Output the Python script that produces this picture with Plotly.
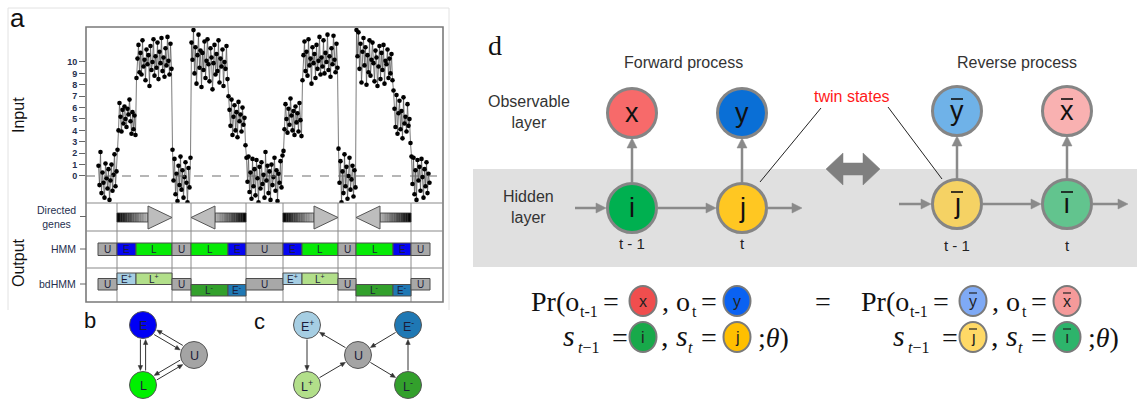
import plotly.graph_objects as go

W, H = 1137, 401

# ---------------- panel a: input signal, one list per segment ----------
u1 = [0.9, -0.8, 2.1, -1.5, 0.3, -0.6, -1.9, 1.1, -0.2, -1.1, 0.6, -2.1, -0.4, 1.0, -1.3, 0.1, 1.9, -0.9, 0.4]
e1 = [2.3, 4.0, 6.4, 5.2, 3.9, 5.8, 4.6, 6.1, 5.0, 4.3, 5.9, 5.4, 6.7, 4.8, 3.7, 5.6, 4.1, 5.3, 3.6]
l1 = [8.6, 10.3, 11.5, 9.1, 10.8, 8.9, 11.9, 9.6, 10.2, 8.4, 11.1, 9.8, 10.6, 7.9, 11.4, 9.3, 10.0, 12.0,
      8.8, 10.5, 9.5, 11.7, 8.5, 10.9, 9.9, 12.1, 9.2, 10.4, 8.7, 11.2, 9.7, 12.2, 10.1, 8.9, 11.6, 9.4]
u2 = [2.3, -0.4, 1.5, -1.6, 0.2, -2.2, 0.9, -0.8, 1.7, -1.2, 0.5, -1.9, -0.1, 1.2, -0.6, -2.3, 0.7, -1.0, 1.6]
l2 = [11.7, 10.2, 12.8, 9.0, 11.3, 8.1, 10.6, 12.4, 9.5, 11.0, 7.8, 10.8, 9.3, 11.8, 8.6, 10.1, 12.0, 9.8,
      8.3, 11.2, 10.4, 7.6, 9.9, 11.5, 8.9, 10.7, 9.2, 11.9, 8.2, 10.3, 9.6, 11.1, 7.9, 10.0, 9.4, 11.4, 8.5]
e2 = [7.0, 5.8, 4.4, 6.7, 3.6, 5.2, 6.2, 4.0, 5.6, 3.4, 6.5, 4.8, 5.4, 3.9, 6.0, 4.5, 5.1, 2.7]
u3 = [1.6, -0.5, 1.7, -1.4, 0.3, -2.0, 1.5, -0.9, 0.6, -1.7, 1.4, -0.2, -2.3, 0.8, -1.1, 1.2, -0.7, 0.1,
      -1.9, 2.1, -0.4, 0.9, -1.5, 0.4, -2.1, 1.0, -0.8, -0.1, 1.6, -1.3, 0.5, -2.2, 0.2, -0.6, 1.3, -1.0, 1.8]
e3 = [2.2, 4.1, 6.3, 5.0, 3.8, 5.9, 4.5, 6.8, 5.3, 4.0, 5.7, 3.6, 6.1, 4.7, 5.5, 3.9, 6.4, 4.9, 3.5]
l3 = [8.4, 10.6, 11.8, 9.2, 10.9, 8.8, 12.0, 9.7, 10.3, 8.1, 11.3, 9.9, 10.7, 8.6, 11.5, 9.4, 10.1, 12.2,
      8.9, 10.4, 9.6, 11.9, 9.0, 10.8, 10.0, 12.4, 9.3, 10.5, 8.7, 11.2, 9.8, 12.3, 10.2, 9.1, 11.6, 9.5]
u4 = [2.4, -0.6, 1.3, -2.3, 0.4, -1.5, 1.9, -0.9, 0.8, -2.0, 0.0, 1.6, -1.2, -0.3, 0.9, -1.8, 0.5, -1.0]
l4 = [12.8, 10.5, 12.6, 9.4, 11.6, 8.2, 10.9, 12.1, 9.7, 11.3, 8.0, 10.6, 9.1, 11.9, 8.8, 10.2, 11.7, 9.9,
      8.3, 11.0, 10.4, 7.9, 9.6, 11.4, 8.5, 10.8, 9.3, 11.5, 8.1, 10.1, 9.8, 11.1, 8.6, 10.3, 9.0, 10.7, 8.4]
e4 = [7.5, 5.9, 4.3, 7.1, 3.7, 5.5, 6.6, 4.1, 5.7, 3.3, 6.9, 4.6, 5.2, 3.9, 6.3, 4.4, 5.0, 2.9]
u5 = [1.7, -0.7, 1.6, -1.6, 0.5, -2.1, 1.4, -0.4, 0.8, -1.3, 1.5, -0.1, -1.9, 0.6, -0.9, 1.2, -1.5, 0.2, -0.6]

seg_values = [u1, e1, l1, u2, l2, e2, u3, e3, l3, u4, l4, e4, u5]
seg_hmm = ["U", "E", "L", "U", "L", "E", "U", "E", "L", "U", "L", "E", "U"]
seg_bd = ["U", "E+", "L+", "U", "L-", "E-", "U", "E+", "L+", "U", "L-", "E-", "U"]
ytick_vals = [0, 1, 2, 3, 4, 5, 6, 7, 8, 9, 10]
row_labels = ["Directed<br>genes", "HMM", "bdHMM"]

# ---------------- build series ----------------
xs, ys, starts, ends = [], [], [], []
k = 0
for vals in seg_values:
    starts.append(k - 0.5)
    for v in vals:
        xs.append(k)
        ys.append(v)
        k += 1
    ends.append(k - 0.5)

shapes, ann = [], []
SANS = "Liberation Sans"
SERIF = "Liberation Serif"


def txt(x, y, s, size, color="#222", family=SANS, xanchor="center", yanchor="middle",
        xref="x2", yref="y2", angle=0):
    ann.append(dict(x=x, y=y, xref=xref, yref=yref, text=s, showarrow=False,
                    font=dict(size=size, color=color, family=family),
                    xanchor=xanchor, yanchor=yanchor, textangle=angle))


def line(x0, y0, x1, y1, color, width, xref="x2", yref="y2", dash=None):
    d = dict(color=color, width=width)
    if dash:
        d["dash"] = dash
    shapes.append(dict(type="line", x0=x0, y0=y0, x1=x1, y1=y1, xref=xref, yref=yref,
                       line=d, layer="above"))


def rect(x0, y0, x1, y1, fill, lc=None, lw=0, xref="x2", yref="y2"):
    shapes.append(dict(type="rect", x0=x0, y0=y0, x1=x1, y1=y1, xref=xref, yref=yref,
                       fillcolor=fill, line=dict(color=lc or "rgba(0,0,0,0)", width=lw),
                       layer="above"))


def circ(cx, cy, rx, fill, lc, lw, ry=None):
    ry = rx if ry is None else ry
    shapes.append(dict(type="circle", x0=cx - rx, x1=cx + rx, y0=cy - ry, y1=cy + ry,
                       xref="x2", yref="y2", fillcolor=fill,
                       line=dict(color=lc, width=lw), layer="above"))


def arrow(x0, y0, x1, y1, color, width, hl, hw):
    dx, dy = x1 - x0, y1 - y0
    n = (dx * dx + dy * dy) ** 0.5
    ux, uy = dx / n, dy / n
    bx, by = x1 - ux * hl, y1 - uy * hl
    line(x0, y0, bx + ux * 0.5, by + uy * 0.5, color, width)
    px, py = -uy * hw, ux * hw
    shapes.append(dict(type="path", xref="x2", yref="y2", fillcolor=color,
                       line=dict(color=color, width=0.5), layer="above",
                       path=f"M {x1},{y1} L {bx + px},{by + py} L {bx - px},{by - py} Z"))


# ---------------- panel a frame ----------------
line(8, 8, 449, 8, "#e2e2e2", 1)
line(8, 8, 8, 310, "#e2e2e2", 1)
line(449, 8, 449, 310, "#e2e2e2", 1)

XR = [starts[0] - 12, starts[0] - 12 + 357]
line(XR[0], 0, XR[1], 0, "#6e6e6e", 1.2, xref="x", yref="y", dash="dash")

# vertical dividers in output rows (where a gene region meets an unexpressed region)
for i in range(len(seg_bd) - 1):
    if (seg_bd[i] == "U") != (seg_bd[i + 1] == "U"):
        line(ends[i], 203, ends[i], 302, "#8a8a8a", 1, xref="x", yref="y3")


def lerp(c0, c1, t):
    return "#%02x%02x%02x" % tuple(int(round(a + (b - a) * t)) for a, b in zip(c0, c1))


regions = []
i = 0
while i < len(seg_bd):
    if seg_bd[i] == "U":
        i += 1
        continue
    j = i
    while j + 1 < len(seg_bd) and seg_bd[j + 1] != "U":
        j += 1
    regions.append((starts[i], ends[j], seg_bd[i][-1]))
    i = j + 1

HEAD = 24
NS = 18
for (a, b, sgn) in regions:
    if sgn == "+":
        hb = b - HEAD
        for s in range(NS):
            x0 = a + (hb - a) * s / NS
            x1 = a + (hb - a) * (s + 1) / NS + 0.3
            rect(x0, 213, x1, 222, lerp((5, 5, 5), (175, 175, 175), s / (NS - 1)), xref="x", yref="y3")
        rect(a, 213, hb, 222, "rgba(0,0,0,0)", "#333", 0.8, xref="x", yref="y3")
        path = f"M {hb},206 L {b},217.5 L {hb},229 Z"
    else:
        hb = a + HEAD
        for s in range(NS):
            x0 = hb + (b - hb) * s / NS - 0.3
            x1 = hb + (b - hb) * (s + 1) / NS
            rect(x0, 213, x1, 222, lerp((175, 175, 175), (5, 5, 5), s / (NS - 1)), xref="x", yref="y3")
        rect(hb, 213, b, 222, "rgba(0,0,0,0)", "#333", 0.8, xref="x", yref="y3")
        path = f"M {hb},206 L {a},217.5 L {hb},229 Z"
    shapes.append(dict(type="path", path=path, xref="x", yref="y3", fillcolor="#bdbdbd",
                       line=dict(color="#555", width=1), layer="above"))

# HMM and bdHMM state bars
hmm_col = {"U": "#a8a8a8", "E": "#0505f0", "L": "#05ea05"}
bd_col = {"U": "#a8a8a8", "E+": "#a6cee3", "L+": "#b2df8a", "L-": "#33a02c", "E-": "#1f78b4"}
bd_lvl = {"U": (278.5, 290), "+": (273, 284.5), "-": (284.5, 296)}
for i, st in enumerate(seg_hmm):
    rect(starts[i], 243, ends[i], 255.5, hmm_col[st], "#4d4d4d", 1, xref="x", yref="y3")
    txt((starts[i] + ends[i]) / 2, 249.5, st, 10, "#1c1c3a", xref="x", yref="y3")
for i, st in enumerate(seg_bd):
    lv = bd_lvl["U"] if st == "U" else bd_lvl[st[-1]]
    rect(starts[i], lv[0], ends[i], lv[1], bd_col[st], "#4d4d4d", 1, xref="x", yref="y3")
    lab = st if st == "U" else f"{st[0]}<sup>{st[1]}</sup>"
    txt((starts[i] + ends[i]) / 2, (lv[0] + lv[1]) / 2, lab, 10, "#1c1c3a", xref="x", yref="y3")

# outer frame + row dividers
rect(86, 27, 443, 302, "rgba(0,0,0,0)", "#7a7a7a", 1.6)
for yy in (203, 231, 268):
    line(86, yy, 443, yy, "#8a8a8a", 1.2)
for yy, lab in zip((216.5, 249, 284), row_labels):
    line(80, yy, 86, yy, "#666", 1)
    txt(78, yy, lab, 10.5, "#26304f", xanchor="right")

txt(17, 18, "a", 26, "#111")
txt(18, 115, "Input", 16, "#111", angle=-90)
txt(18, 263, "Output", 16, "#111", angle=-90)

# ---------------- panels b and c (state diagrams) ----------------
R = 13.5
b_nodes = {"E": (143, 325, "#0000f5"), "U": (194, 355, "#a4a4a4"), "L": (143, 385, "#00f000")}
c_nodes = {"E+": (307, 325, "#a6cee3"), "E-": (408, 325, "#1f78b4"), "U": (358, 355, "#a4a4a4"),
           "L+": (307, 385, "#b2df8a"), "L-": (408, 385, "#33a02c")}
b_edges = [("E", "L"), ("L", "E"), ("E", "U"), ("U", "E"), ("L", "U"), ("U", "L")]
c_edges = [("U", "E+"), ("E+", "L+"), ("L+", "U"), ("U", "L-"), ("L-", "E-"), ("E-", "U")]


def edge(nodes, a, b, off):
    ax_, ay_, _ = nodes[a]
    bx, by, _ = nodes[b]
    dx, dy = bx - ax_, by - ay_
    n = (dx * dx + dy * dy) ** 0.5
    ux, uy = dx / n, dy / n
    px, py = -uy * off, ux * off
    arrow(ax_ + ux * (R + 1) + px, ay_ + uy * (R + 1) + py,
          bx - ux * (R + 1) + px, by - uy * (R + 1) + py, "#333", 1, 5, 2.2)


for a, b in b_edges:
    edge(b_nodes, a, b, 2.6)
for a, b in c_edges:
    edge(c_nodes, a, b, 0)
for name, (cx, cy, col) in list(b_nodes.items()) + list(c_nodes.items()):
    circ(cx, cy, R, col, "#555", 1)
    lab = name if len(name) == 1 else f"{name[0]}<sup>{name[1]}</sup>"
    txt(cx, cy + 0.5, lab, 12.5, "#1c1c3a")
txt(90, 320, "b", 22, "#111")
txt(259, 321, "c", 22, "#111")

# ---------------- panel d ----------------
rect(473, 169, 1137, 267, "#e0e0e0")
txt(495, 45, "d", 28, "#111", family=SERIF)
txt(683, 62, "Forward process", 16, "#333")
txt(1017, 62, "Reverse process", 16, "#333")
txt(529, 112, "Observable<br>layer", 16, "#333")
txt(528, 207, "Hidden<br>layer", 16, "#333")
txt(852, 96, "twin states", 16, "#ff1a1a")
line(821, 108, 760, 182, "#222", 1)
line(888, 107, 942, 179, "#222", 1)
shapes.append(dict(type="path", xref="x2", yref="y2", fillcolor="#7f7f7f",
                   line=dict(color="#7f7f7f", width=0.5), layer="above",
                   path="M 826,169 L 843,153 L 843,163 L 863,163 L 863,153 L 880,169 "
                        "L 863,185 L 863,175 L 843,175 L 843,185 Z"))

AC = "#8a8a8a"
# forward
arrow(632, 182, 632, 138, AC, 2.5, 10, 5)
arrow(742, 182, 742, 138, AC, 2.5, 10, 5)
arrow(575, 208, 606, 208, AC, 2.5, 10, 5)
arrow(658, 208, 716, 208, AC, 2.5, 10, 5)
arrow(768, 208, 802, 208, AC, 2.5, 10, 5)
# reverse
arrow(957, 178, 957, 136, AC, 2.5, 10, 5)
arrow(1067, 178, 1067, 136, AC, 2.5, 10, 5)
arrow(899, 204, 931, 204, AC, 2.5, 10, 5)
arrow(983, 204, 1041, 204, AC, 2.5, 10, 5)
arrow(1093, 204, 1128, 204, AC, 2.5, 10, 5)

big = [  # (cx, cy, fill, letter, overline)
    (632, 113, "#f76a6a", "x", False), (742, 113, "#0a6fd6", "y", False),
    (632, 208, "#00b050", "i", False), (742, 208, "#ffc722", "j", False),
    (957, 111, "#6fb2e8", "y", True), (1067, 111, "#f9b1b1", "x", True),
    (957, 204, "#f5d264", "ȷ", True), (1067, 204, "#62c48e", "ı", True),
]
for cx, cy, col, letter, bar in big:
    circ(cx, cy, 24.5, col, "#858585", 3)
    txt(cx, cy, letter, 27, "#111")
    if bar:
        line(cx - 6, cy - 12, cx + 6, cy - 12, "#111", 1.6)
txt(632, 243, "t - 1", 15, "#222")
txt(742, 243, "t", 15, "#222")
txt(957, 245, "t - 1", 15, "#222")
txt(1067, 245, "t", 15, "#222")

# formula
R1, R2 = 301, 337


def formula(sh, circles):
    txt(529 + sh, R1, "Pr(o", 28, "#111", SERIF, "left")
    txt(578 + sh, R1 + 10, "t-1", 16, "#111", SERIF, "left")
    txt(611 + sh, R1, "=", 28, "#111", SERIF)
    txt(660 + sh, R1, ", o", 28, "#111", SERIF, "left")
    txt(690 + sh, R1 + 10, "t", 16, "#111", SERIF, "left")
    txt(709 + sh, R1, "=", 28, "#111", SERIF)
    txt(561 + sh, R2 - 2, "<i>s</i>", 30, "#111", SERIF, "left")
    txt(576 + sh, R2 + 10, "<i>t</i>−1", 16, "#111", SERIF, "left")
    txt(620 + sh, R2, "=", 28, "#111", SERIF)
    txt(659 + sh, R2 - 2, ", <i>s</i>", 30, "#111", SERIF, "left")
    txt(686 + sh, R2 + 10, "<i>t</i>", 16, "#111", SERIF, "left")
    txt(709 + sh, R2, "=", 28, "#111", SERIF)
    txt(756 + sh, R2, ";<i>θ</i>)", 28, "#111", SERIF, "left")
    pos = [(643, R1), (737, R1), (643, R2), (737, R2)]
    for (px, py), (col, letter, bar) in zip(pos, circles):
        circ(px + sh, py, 13.5, col, "#7a7a7a", 2, ry=15)
        txt(px + sh, py, letter, 16, "#222")
        if bar:
            line(px + sh - 4, py - 8, px + sh + 4, py - 8, "#222", 1.2)


formula(0, [("#f04e4e", "x", False), ("#0a62f2", "y", False),
            ("#18a94a", "i", False), ("#ffbf00", "j", False)])
txt(823, R1, "=", 28, "#111", SERIF)
formula(330, [("#7faaf5", "y", True), ("#f59a9a", "x", True),
              ("#ffd966", "ȷ", True), ("#2db46b", "ı", True)])

# ---------------- figure ----------------
fig = go.Figure()
fig.add_trace(go.Scatter(x=xs, y=ys, mode="lines+markers", xaxis="x", yaxis="y",
                         line=dict(color="#5a5a5a", width=0.8),
                         marker=dict(color="#000", size=4.6), showlegend=False,
                         hoverinfo="skip"))
fig.add_trace(go.Scatter(x=[None], y=[None], xaxis="x", yaxis="y3", showlegend=False,
                         hoverinfo="skip"))
fig.add_trace(go.Scatter(x=[None], y=[None], xaxis="x2", yaxis="y2", showlegend=False,
                         hoverinfo="skip"))

fig.update_layout(
    width=W, height=H, autosize=False,
    margin=dict(l=0, r=0, t=0, b=0),
    paper_bgcolor="white", plot_bgcolor="rgba(0,0,0,0)",
    xaxis=dict(domain=[86 / W, 443 / W], range=XR, visible=False, anchor="y"),
    yaxis=dict(domain=[1 - 203 / H, 1 - 27 / H], range=[-2.37, 13.07], anchor="x",
               tickvals=ytick_vals, ticks="outside", ticklen=6, tickcolor="#666",
               showgrid=False, zeroline=False, showline=False,
               tickfont=dict(size=9, color="#26304f", family=SANS, weight="bold")),
    yaxis3=dict(domain=[1 - 302 / H, 1 - 203 / H], range=[302, 203], visible=False,
                anchor="x"),
    xaxis2=dict(domain=[0, 1], range=[0, W], visible=False, anchor="y2"),
    yaxis2=dict(domain=[0, 1], range=[H, 0], visible=False, anchor="x2"),
    shapes=shapes, annotations=ann,
)
fig.write_html("out.html", config={"displayModeBar": False},
               post_script="document.body.style.margin='0';document.body.style.overflow='hidden';")
